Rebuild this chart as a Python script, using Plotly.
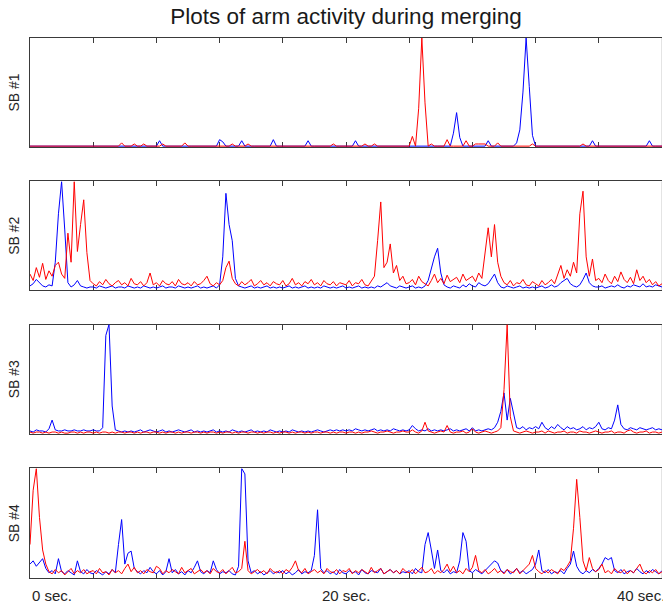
import numpy as np
import plotly.graph_objects as go
from plotly.subplots import make_subplots

# ---------------- data (activity, % of panel max), sampled every 0.2 s ----------------
sample_step = 0.2
panel_names = ["SB #1", "SB #2", "SB #3", "SB #4"]
xtick_vals = [0, 4, 8, 12, 16, 20, 24, 28, 32, 36, 40]
xlabel_text = ["0 sec.", "20 sec.", "40 sec."]
xlabel_pos = [1.4, 20.0, 38.7]

blue_sb1 = [
    0, 0, 0, 0, 0, 0, 0, 0, 0, 0, 0, 0, 0, 0, 0, 0, 0, 0, 0, 0,
    0, 0, 0, 0, 0, 0, 0, 0, 0, 0, 0, 0, 0, 0, 0, 0, 0, 0, 0, 0,
    0, 5, 0, 0, 0, 0, 0, 0, 0, 0, 0, 0, 0, 0, 0, 0, 0, 0, 0, 0,
    6, 4, 0, 0, 0, 0, 0, 5, 0, 0, 0, 0, 0, 0, 0, 0, 0, 6, 0, 0,
    0, 0, 0, 0, 0, 0, 0, 0, 5, 0, 0, 0, 0, 0, 0, 0, 0, 0, 0, 0,
    0, 0, 0, 5, 0, 0, 0, 0, 0, 0, 0, 0, 0, 0, 0, 0, 0, 0, 0, 0,
    0, 0, 0, 0, 0, 0, 0, 0, 0, 0, 0, 0, 0, 0, 12, 31, 8, 0, 0, 0,
    0, 0, 0, 0, 0, 5, 0, 0, 0, 0, 0, 0, 0, 0, 3, 15, 50, 100, 55, 10,
    0, 0, 0, 0, 0, 0, 0, 0, 0, 0, 0, 0, 0, 0, 0, 0, 0, 0, 5, 0,
    0, 0, 0, 0, 0, 0, 0, 0, 0, 0, 0, 0, 0, 0, 0, 0, 5, 0, 0, 0, 0,
]
red_sb1 = [
    0, 0, 0, 0, 0, 0, 0, 0, 0, 0, 0, 0, 0, 0, 0, 0, 0, 0, 0, 0,
    0, 0, 0, 0, 0, 0, 0, 0, 0, 3, 0, 0, 0, 2, 0, 0, 2, 0, 0, 0,
    0, 0, 2, 0, 0, 0, 0, 0, 0, 3, 0, 0, 0, 0, 0, 0, 0, 0, 0, 0,
    0, 0, 0, 0, 2, 0, 0, 0, 0, 2, 0, 0, 0, 0, 0, 0, 0, 0, 0, 0,
    0, 0, 0, 0, 0, 0, 0, 0, 0, 0, 0, 0, 0, 0, 0, 0, 2, 0, 0, 0,
    0, 0, 0, 0, 0, 0, 2, 0, 0, 2, 0, 0, 0, 0, 0, 0, 0, 0, 0, 0,
    0, 9, 0, 35, 100, 40, 0, 2, 0, 0, 0, 0, 6, 0, 0, 0, 0, 0, 5, 0,
    0, 2, 2, 2, 2, 0, 0, 0, 3, 0, 0, 0, 0, 0, 0, 0, 0, 0, 0, 2,
    0, 0, 0, 0, 0, 0, 0, 0, 0, 0, 0, 0, 0, 0, 0, 2, 0, 0, 0, 0,
    0, 0, 0, 0, 0, 0, 0, 0, 0, 0, 0, 0, 0, 0, 0, 0, 0, 0, 0, 0, 0,
]

blue_sb2 = [
    3, 5, 9, 6, 3, 2, 4, 3, 25, 70, 100, 55, 6, 2, 4, 8, 3, 2, 1, 2,
    2, 1, 3, 2, 1, 2, 3, 1, 2, 2, 1, 3, 2, 1, 2, 1, 3, 2, 1, 2,
    1, 2, 3, 1, 2, 2, 1, 3, 2, 1, 2, 1, 2, 3, 1, 2, 1, 2, 3, 1,
    4, 30, 89, 60, 45, 10, 3, 2, 1, 2, 3, 1, 2, 1, 2, 3, 1, 2, 1, 2,
    1, 2, 3, 1, 2, 1, 2, 3, 1, 2, 1, 2, 1, 3, 2, 1, 2, 1, 2, 3,
    1, 2, 1, 2, 3, 1, 2, 1, 2, 1, 3, 2, 4, 6, 3, 2, 1, 3, 2, 1,
    2, 3, 1, 2, 1, 3, 8, 20, 30, 38, 15, 4, 2, 1, 3, 2, 1, 4, 2, 5,
    3, 2, 6, 4, 3, 5, 9, 14, 6, 2, 1, 3, 2, 1, 2, 3, 1, 2, 1, 2,
    1, 2, 3, 1, 2, 4, 2, 3, 6, 8, 10, 5, 3, 2, 4, 9, 15, 6, 3, 2,
    2, 3, 1, 2, 3, 2, 4, 2, 1, 3, 2, 4, 3, 2, 5, 2, 3, 2, 4, 3, 2,
]
red_sb2 = [
    14, 8, 20, 11, 24, 9, 17, 12, 22, 25, 14, 10, 52, 25, 100, 35, 60, 83, 34, 8,
    5, 3, 7, 4, 9, 5, 3, 6, 8, 4, 6, 3, 10, 5, 4, 7, 3, 6, 15, 4,
    6, 3, 8, 5, 4, 7, 3, 9, 5, 4, 6, 3, 7, 4, 5, 8, 12, 5, 3, 6,
    4, 8, 20, 26, 10, 5, 3, 7, 4, 6, 9, 3, 5, 8, 4, 6, 3, 7, 5, 4,
    8, 3, 5, 10, 4, 6, 3, 7, 5, 9, 4, 6, 3, 8, 5, 4, 7, 3, 6, 5,
    4, 8, 3, 6, 5, 9, 4, 3, 7, 12, 45, 81, 20, 25, 42, 15, 22, 8, 12, 5,
    6, 9, 4, 12, 7, 5, 3, 8, 14, 6, 10, 5, 13, 7, 9, 11, 6, 14, 8, 10,
    12, 7, 15, 10, 35, 57, 30, 60, 25, 12, 6, 4, 8, 3, 6, 5, 9, 4, 3, 7,
    5, 3, 8, 4, 6, 9, 5, 14, 22, 10, 18, 12, 25, 15, 70, 91, 30, 12, 28, 8,
    10, 6, 14, 8, 5, 12, 7, 16, 9, 6, 11, 5, 18, 8, 12, 6, 9, 4, 7, 3, 5,
]

blue_sb3 = [
    2, 1, 3, 2, 2, 1, 4, 12, 3, 2, 2, 3, 2, 2, 3, 2, 2, 3, 2, 2,
    3, 2, 2, 5, 90, 100, 25, 3, 2, 1, 2, 1, 2, 1, 2, 3, 1, 2, 3, 2,
    1, 2, 3, 1, 2, 1, 2, 3, 2, 1, 2, 3, 1, 2, 1, 2, 1, 2, 3, 1,
    2, 1, 2, 1, 3, 2, 1, 2, 1, 2, 3, 1, 2, 1, 2, 1, 3, 2, 1, 2,
    1, 2, 1, 3, 2, 1, 2, 1, 2, 1, 2, 3, 2, 1, 2, 3, 2, 3, 2, 3,
    2, 3, 2, 4, 3, 2, 3, 2, 3, 4, 2, 3, 2, 3, 2, 4, 3, 2, 3, 2,
    3, 7, 4, 2, 3, 2, 4, 2, 3, 2, 3, 2, 3, 4, 2, 3, 2, 3, 4, 2,
    5, 2, 3, 2, 3, 4, 3, 5, 10, 20, 37, 12, 32, 18, 5, 4, 6, 3, 5, 4,
    6, 4, 10, 5, 3, 6, 4, 8, 5, 3, 6, 4, 5, 3, 4, 6, 3, 5, 4, 6,
    10, 4, 3, 5, 4, 12, 26, 8, 4, 3, 5, 4, 3, 5, 4, 3, 4, 5, 3, 4, 3,
]
red_sb3 = [
    1, 0, 1, 1, 0, 1, 0, 1, 1, 0, 1, 0, 0, 1, 1, 0, 1, 0, 1, 1,
    0, 1, 0, 1, 1, 0, 1, 0, 1, 1, 0, 1, 1, 0, 1, 0, 1, 1, 0, 1,
    1, 0, 1, 0, 1, 1, 0, 1, 0, 1, 1, 0, 1, 1, 0, 1, 0, 1, 1, 0,
    1, 0, 1, 1, 0, 1, 0, 1, 1, 0, 1, 1, 0, 1, 0, 1, 1, 0, 1, 0,
    1, 1, 0, 1, 0, 1, 1, 0, 1, 0, 1, 1, 0, 1, 1, 0, 1, 0, 1, 1,
    0, 1, 1, 0, 1, 0, 1, 1, 2, 1, 0, 1, 1, 2, 1, 0, 1, 1, 2, 1,
    1, 3, 1, 0, 2, 10, 2, 1, 0, 1, 2, 1, 7, 1, 0, 1, 1, 2, 0, 1,
    4, 1, 0, 1, 2, 1, 0, 1, 2, 5, 40, 100, 15, 2, 1, 0, 1, 2, 1, 0,
    1, 1, 2, 0, 2, 1, 0, 1, 1, 2, 0, 1, 1, 0, 2, 1, 1, 0, 1, 2,
    1, 0, 1, 1, 2, 0, 1, 1, 0, 2, 3, 1, 0, 1, 1, 2, 0, 1, 1, 0, 1,
]

blue_sb4 = [
    12, 15, 10, 14, 17, 8, 4, 6, 3, 17, 5, 3, 6, 4, 2, 15, 5, 3, 7, 4,
    3, 6, 4, 2, 5, 3, 7, 4, 30, 53, 12, 22, 24, 8, 5, 3, 6, 4, 9, 5,
    3, 6, 2, 5, 17, 4, 7, 3, 5, 2, 6, 4, 9, 15, 5, 3, 6, 4, 15, 7,
    3, 5, 4, 6, 3, 2, 10, 100, 95, 15, 4, 6, 3, 5, 2, 4, 6, 3, 5, 4,
    6, 3, 5, 2, 4, 7, 3, 5, 4, 6, 20, 62, 8, 4, 6, 3, 5, 2, 7, 4,
    3, 6, 4, 5, 2, 7, 4, 3, 6, 5, 4, 8, 3, 5, 7, 4, 6, 3, 5, 4,
    6, 3, 8, 5, 4, 30, 41, 25, 8, 25, 6, 4, 7, 3, 5, 4, 15, 41, 33, 6,
    4, 7, 5, 3, 6, 9, 12, 15, 13, 6, 4, 7, 3, 5, 8, 4, 6, 3, 5, 7,
    12, 25, 6, 4, 7, 3, 5, 4, 6, 3, 8, 12, 24, 10, 5, 3, 6, 4, 7, 5,
    8, 12, 18, 16, 18, 6, 4, 7, 3, 5, 6, 4, 8, 5, 3, 6, 4, 7, 5, 3, 6,
]
red_sb4 = [
    30, 80, 100, 55, 25, 12, 5, 3, 7, 4, 6, 2, 5, 8, 3, 6, 4, 7, 3, 5,
    6, 3, 8, 4, 5, 2, 7, 4, 6, 3, 8, 12, 5, 9, 4, 6, 3, 7, 5, 4,
    10, 8, 3, 6, 4, 7, 5, 3, 9, 4, 6, 8, 3, 5, 7, 4, 6, 3, 8, 5,
    4, 7, 3, 6, 9, 4, 5, 8, 33, 6, 3, 5, 7, 4, 6, 3, 8, 5, 4, 6,
    3, 7, 5, 9, 15, 6, 4, 8, 3, 5, 7, 4, 6, 3, 8, 5, 4, 7, 3, 6,
    5, 8, 3, 6, 4, 7, 5, 3, 9, 4, 6, 8, 3, 5, 7, 4, 6, 3, 8, 5,
    4, 7, 3, 6, 9, 4, 5, 8, 3, 6, 4, 7, 12, 5, 10, 4, 6, 3, 8, 5,
    9, 20, 6, 4, 7, 3, 5, 8, 4, 6, 3, 7, 5, 4, 8, 3, 6, 9, 12, 20,
    8, 5, 3, 6, 4, 7, 5, 3, 8, 6, 10, 15, 45, 90, 55, 15, 6, 18, 8, 5,
    7, 12, 4, 6, 3, 8, 5, 4, 7, 3, 6, 4, 8, 12, 5, 3, 6, 4, 7, 3, 5,
]

blue_series = [blue_sb1, blue_sb2, blue_sb3, blue_sb4]
red_series = [red_sb1, red_sb2, red_sb3, red_sb4]
time_s = np.arange(len(blue_sb1)) * sample_step

# ---------------- figure ----------------
FONT = "Liberation Sans, Arial, Helvetica, sans-serif"
AXC = "#3a3a3a"
domains = [[0.79815, 1.0], [0.53333, 0.73426], [0.26667, 0.46944], [0.0, 0.20278]]

fig = make_subplots(rows=4, cols=1)

for k in range(4):
    r = k + 1
    fig.add_trace(go.Scatter(x=time_s, y=blue_series[k], mode="lines",
                             line=dict(color="#0000ff", width=1), showlegend=False,
                             hoverinfo="skip"), row=r, col=1)
    fig.add_trace(go.Scatter(x=time_s, y=red_series[k], mode="lines",
                             line=dict(color="#ff0000", width=1), showlegend=False,
                             hoverinfo="skip"), row=r, col=1)
    fig.update_xaxes(range=[0, 40], tickmode="array", tickvals=xtick_vals,
                     showticklabels=False, ticks="inside", ticklen=5, tickwidth=1,
                     tickcolor=AXC, showline=True, linecolor=AXC, linewidth=1,
                     mirror="ticks", showgrid=False, zeroline=False,
                     layer="below traces", row=r, col=1)
    fig.update_yaxes(range=[-0.8, 100], domain=domains[k], showticklabels=False,
                     ticks="", showline=True, linecolor=AXC, linewidth=1, mirror=False,
                     showgrid=False, zeroline=False, layer="below traces", row=r, col=1)
    yref = "y" if k == 0 else f"y{r}"
    xref = "x" if k == 0 else f"x{r}"
    # light right-hand frame edge
    fig.add_shape(type="line", xref=xref, yref=yref + " domain", x0=40, x1=40, y0=0, y1=1,
                  line=dict(color="#c8c8c8", width=1), layer="below")
    # panel label
    fig.add_annotation(text=panel_names[k], xref="paper", yref="paper",
                       x=-0.0253, y=(domains[k][0] + domains[k][1]) / 2,
                       xanchor="center", yanchor="middle", textangle=-90,
                       showarrow=False, font=dict(family=FONT, size=14, color="#262626"))

for txt, pos in zip(xlabel_text, xlabel_pos):
    fig.add_annotation(text=txt, xref="x4", yref="paper", x=pos, y=-0.0315,
                       xanchor="center", yanchor="middle", showarrow=False,
                       font=dict(family=FONT, size=15, color="#262626"))

fig.update_layout(
    width=663, height=608,
    margin=dict(l=30, r=1, t=38, b=30, autoexpand=False),
    paper_bgcolor="white", plot_bgcolor="white",
    title=dict(text="Plots of arm activity during merging", x=0.5, xref="paper",
               y=1 - 16.5 / 608, yref="container", xanchor="center", yanchor="middle",
               font=dict(family=FONT, size=22.5, color="#1a1a1a")),
    font=dict(family=FONT),
)

fig.write_html("out.html", config={"displayModeBar": False},
               post_script="document.body.style.margin='0';document.body.style.overflow='hidden';")
